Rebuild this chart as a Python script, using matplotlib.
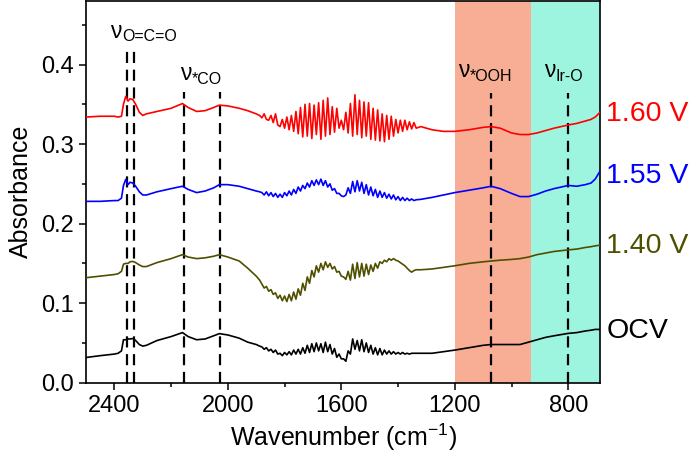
import numpy as np
import matplotlib
matplotlib.use("Agg")
import matplotlib.pyplot as plt
import matplotlib.transforms as mtransforms

plt.rcParams['font.family'] = ['Liberation Sans', 'DejaVu Sans']
plt.rcParams['mathtext.fontset'] = 'custom'
plt.rcParams['mathtext.rm'] = 'Liberation Sans'
plt.rcParams['mathtext.it'] = 'Liberation Sans'

# wavenumber points (cm-1): smooth left part, noisy middle part, smooth right part
wn_left = [2500, 2450, 2400, 2387, 2375, 2368, 2360, 2352, 2345, 2335, 2325, 2312, 2300,
           2287, 2250, 2200, 2160, 2140, 2110, 2080, 2050, 2030, 2000, 1960, 1930, 1900, 1888]
wn_mid = list(range(1880, 1335, -8))
wn_right = [1320, 1280, 1240, 1200, 1150, 1100, 1072, 1040, 1000, 970, 940, 910, 880, 850,
            800, 770, 740, 720, 705, 688]

# 1.60 V
red_left = [0.334, 0.335, 0.335, 0.334, 0.335, 0.350, 0.360, 0.354, 0.357, 0.356, 0.350, 0.340, 0.336,
            0.338, 0.341, 0.345, 0.351, 0.346, 0.341, 0.342, 0.346, 0.349, 0.348, 0.345, 0.342, 0.338, 0.336]
red_mid = [0.333, 0.338, 0.331, 0.330, 0.336, 0.327, 0.338, 0.324, 0.322, 0.331, 0.320, 0.334,
           0.318, 0.336, 0.316, 0.341, 0.313, 0.346, 0.309, 0.350, 0.310, 0.351, 0.307, 0.349,
           0.312, 0.352, 0.306, 0.355, 0.310, 0.358, 0.312, 0.347, 0.315, 0.345, 0.320, 0.330,
           0.318, 0.340, 0.314, 0.351, 0.310, 0.362, 0.312, 0.355, 0.308, 0.353, 0.310, 0.352,
           0.306, 0.345, 0.305, 0.343, 0.304, 0.338, 0.303, 0.336, 0.306, 0.335, 0.310, 0.331,
           0.314, 0.330, 0.316, 0.330, 0.318, 0.328, 0.319, 0.327, 0.320]
red_right = [0.322, 0.318, 0.316, 0.316, 0.318, 0.321, 0.322, 0.320, 0.314, 0.312, 0.312, 0.314, 0.317,
             0.320, 0.324, 0.326, 0.329, 0.331, 0.334, 0.340]

# 1.55 V
blue_left = [0.228, 0.228, 0.229, 0.229, 0.232, 0.248, 0.2555, 0.249, 0.252, 0.251, 0.247, 0.240, 0.236,
             0.236, 0.240, 0.244, 0.247, 0.243, 0.239, 0.241, 0.245, 0.249, 0.249, 0.247, 0.244, 0.241, 0.240]
blue_mid = [0.239, 0.236, 0.240, 0.235, 0.239, 0.234, 0.238, 0.233, 0.237, 0.233, 0.239, 0.235,
            0.241, 0.236, 0.243, 0.238, 0.246, 0.241, 0.248, 0.244, 0.251, 0.246, 0.254, 0.248,
            0.255, 0.249, 0.256, 0.248, 0.254, 0.246, 0.250, 0.242, 0.244, 0.238, 0.238, 0.235,
            0.234, 0.236, 0.245, 0.238, 0.253, 0.240, 0.254, 0.241, 0.252, 0.238, 0.249, 0.236,
            0.246, 0.235, 0.243, 0.233, 0.241, 0.233, 0.239, 0.232, 0.237, 0.231, 0.236, 0.230,
            0.234, 0.229, 0.233, 0.229, 0.232, 0.229, 0.231, 0.229, 0.230]
blue_right = [0.2305, 0.233, 0.236, 0.239, 0.242, 0.245, 0.247, 0.244, 0.238, 0.234, 0.234, 0.237, 0.241,
              0.244, 0.248, 0.247, 0.249, 0.251, 0.256, 0.266]

# 1.40 V
olive_left = [0.132, 0.134, 0.136, 0.137, 0.140, 0.149, 0.150, 0.150, 0.152, 0.1525, 0.151, 0.148, 0.146,
              0.146, 0.151, 0.156, 0.161, 0.158, 0.156, 0.157, 0.159, 0.161, 0.158, 0.153, 0.144, 0.134, 0.129]
olive_mid = [0.124, 0.119, 0.121, 0.115, 0.117, 0.111, 0.113, 0.106, 0.110, 0.103, 0.109, 0.102,
             0.111, 0.103, 0.114, 0.105, 0.118, 0.110, 0.125, 0.116, 0.133, 0.125, 0.141, 0.133,
             0.147, 0.139, 0.150, 0.142, 0.152, 0.145, 0.150, 0.143, 0.146, 0.139, 0.140, 0.134,
             0.133, 0.130, 0.140, 0.129, 0.149, 0.131, 0.151, 0.133, 0.150, 0.134, 0.149, 0.136,
             0.148, 0.140, 0.150, 0.144, 0.152, 0.150, 0.154, 0.152, 0.156, 0.154, 0.156, 0.154,
             0.153, 0.151, 0.149, 0.147, 0.144, 0.141, 0.139, 0.141, 0.142]
olive_right = [0.142, 0.143, 0.145, 0.147, 0.150, 0.152, 0.153, 0.154, 0.155, 0.156, 0.158, 0.161, 0.163,
               0.165, 0.167, 0.168, 0.170, 0.171, 0.172, 0.173]

# OCV
black_left = [0.0317, 0.034, 0.036, 0.037, 0.040, 0.054, 0.054, 0.055, 0.055, 0.0555, 0.053, 0.048, 0.046,
              0.047, 0.053, 0.058, 0.063, 0.058, 0.054, 0.055, 0.059, 0.0617, 0.060, 0.056, 0.051, 0.048, 0.046]
black_mid = [0.045, 0.042, 0.044, 0.040, 0.042, 0.038, 0.041, 0.036, 0.037, 0.034, 0.038, 0.035,
             0.039, 0.035, 0.041, 0.036, 0.042, 0.036, 0.044, 0.037, 0.047, 0.038, 0.049, 0.039,
             0.050, 0.040, 0.049, 0.038, 0.051, 0.039, 0.048, 0.036, 0.043, 0.032, 0.036, 0.030,
             0.030, 0.027, 0.040, 0.036, 0.055, 0.042, 0.053, 0.040, 0.054, 0.039, 0.050, 0.038,
             0.047, 0.036, 0.044, 0.035, 0.043, 0.035, 0.041, 0.036, 0.040, 0.036, 0.039, 0.036,
             0.038, 0.036, 0.038, 0.036, 0.037, 0.036, 0.037, 0.037, 0.037]
black_right = [0.037, 0.037, 0.039, 0.041, 0.044, 0.047, 0.048, 0.048, 0.048, 0.048, 0.051, 0.054, 0.057,
               0.059, 0.062, 0.063, 0.065, 0.066, 0.067, 0.067]

series_names = ['1.60 V', '1.55 V', '1.40 V', 'OCV']
series_colors = ['#ff0000', '#0000ff', '#4f4f00', '#000000']
label_y = [0.338, 0.260, 0.172, 0.065]

# band markers
band_pos = [2355, 2331, 2153, 2026, 1072, 800]
band_top = [0.422, 0.422, 0.365, 0.365, 0.364, 0.364]
band_subs = ['O=C=O', '*CO', '*OOH', 'Ir-O']
band_label_x = [2415, 2168, 1190, 886]
band_label_y = [0.434, 0.380, 0.384, 0.384]

wn = np.array(wn_left + wn_mid + wn_right)
curves = [red_left + red_mid + red_right,
          blue_left + blue_mid + blue_right,
          olive_left + olive_mid + olive_right,
          black_left + black_mid + black_right]

fig = plt.figure(figsize=(6.92, 4.58), dpi=100)
ax = fig.add_axes([0.1243, 0.1644, 0.7428, 0.8336])

ax.axvspan(1200, 930, color='#f7ae95', lw=0, zorder=0)
ax.axvspan(930, 680, color='#9ef5df', lw=0, zorder=0)

for y, c in zip(curves, series_colors):
    ax.plot(wn, y, color=c, lw=1.2, zorder=3)

for x, t in zip(band_pos, band_top):
    ax.plot([x, x], [0, t], color='black', lw=1.6, dashes=(5, 3), zorder=2)

sub_trans = mtransforms.offset_copy(ax.transData, fig=fig, x=8.6, y=-2.5, units='points')
for x, y, s in zip(band_label_x, band_label_y, band_subs):
    ax.text(x, y, 'ν', fontsize=16.5, ha='left', va='baseline')
    ax.text(x, y, s, fontsize=11.5, ha='left', va='baseline', transform=sub_trans)

trans = mtransforms.blended_transform_factory(ax.transAxes, ax.transData)
for name, c, y in zip(series_names, series_colors, label_y):
    ax.text(1.012, y, name, color=c, fontsize=20.5, ha='left', va='center',
            transform=trans, clip_on=False)

ax.set_xlim(2500, 688)
ax.set_ylim(0, 0.48)
ax.set_xticks([2400, 2000, 1600, 1200, 800])
ax.set_xticks([2200, 1800, 1400, 1000], minor=True)
ax.set_yticks([0.0, 0.1, 0.2, 0.3, 0.4])
ax.set_yticks([0.05, 0.15, 0.25, 0.35, 0.45], minor=True)
ax.set_yticklabels(['0.0', '0.1', '0.2', '0.3', '0.4'])
ax.tick_params(which='major', length=5, width=1.1, labelsize=17, direction='out')
ax.tick_params(which='minor', length=3, width=1.1, direction='out')
for sp in ax.spines.values():
    sp.set_linewidth(1.2)

ax.set_xlabel(r'Wavenumber (cm$^{-1}$)', fontsize=18, labelpad=4)
ax.set_ylabel('Absorbance', fontsize=18, labelpad=6)

fig.savefig('out.png', dpi=100)
